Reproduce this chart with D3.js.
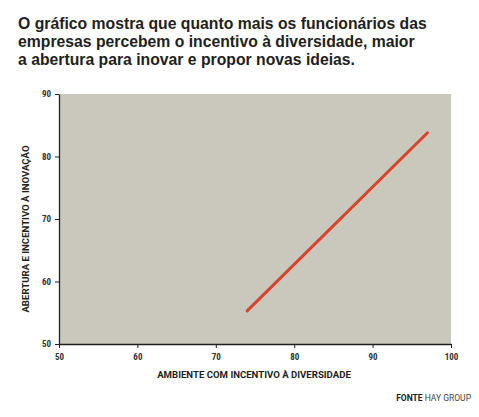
<!DOCTYPE html>
<html>
<head>
<meta charset="utf-8">
<script src="https://cdn.jsdelivr.net/npm/d3@7"></script>
<style>
  html, body { margin: 0; padding: 0; background: #fff; }
  svg { display: block; }
</style>
</head>
<body>
<svg id="chart" width="479" height="417"></svg>
<script>
// Headline, axis titles and source
const titleLines = [
  "O gráfico mostra que quanto mais os funcionários das",
  "empresas percebem o incentivo à diversidade, maior",
  "a abertura para inovar e propor novas ideias."
];
const xTitle = "AMBIENTE COM INCENTIVO À DIVERSIDADE";
const yTitle = "ABERTURA E INCENTIVO À INOVAÇÃO";

// Axis domains and ticks
const xTicks = [50, 60, 70, 80, 90, 100];
const yTicks = [50, 60, 70, 80, 90];

// Trend line endpoints (diversity score, innovation score)
const trendX = [74, 97];
const trendY = [55.3, 83.8];

const svg = d3.select("#chart");
const plot = { left: 59, right: 451, top: 94, bottom: 344 };

const x = d3.scaleLinear().domain([50, 100]).range([plot.left, plot.right]);
const y = d3.scaleLinear().domain([50, 90]).range([plot.bottom, plot.top]);

// Headline
const title = svg.append("text")
  .attr("font-family", "'Liberation Sans', Arial, sans-serif")
  .attr("font-weight", 700)
  .attr("font-size", 15.75)
  .attr("fill", "#231f20");
titleLines.forEach((t, i) => {
  title.append("tspan").attr("x", 18).attr("y", 29 + i * 18.2).text(t);
});

// Plot background
svg.append("rect")
  .attr("x", plot.left).attr("y", plot.top)
  .attr("width", plot.right - plot.left)
  .attr("height", plot.bottom - plot.top)
  .attr("fill", "#cac8bc");

// Axes
const tickFont = g => g.selectAll("text")
  .attr("font-family", "'Liberation Sans Narrow', 'Roboto Condensed', Roboto, sans-serif")
  .attr("font-weight", 700)
  .attr("font-size", 9)
  .attr("fill", "#333");

const xAxis = svg.append("g")
  .attr("transform", `translate(0,${plot.bottom})`)
  .call(d3.axisBottom(x).tickValues(xTicks).tickSize(4).tickPadding(6).tickSizeOuter(0));
xAxis.call(tickFont);

const yAxis = svg.append("g")
  .attr("transform", `translate(${plot.left},0)`)
  .call(d3.axisLeft(y).tickValues(yTicks).tickSize(4).tickPadding(4).tickSizeOuter(0));
yAxis.call(tickFont);

[xAxis, yAxis].forEach(g => {
  g.select(".domain").attr("stroke", "#231f20").attr("stroke-width", 1.3);
  g.selectAll(".tick line").attr("stroke", "#231f20");
});

// Trend line
const pts = trendX.map((d, i) => [d, trendY[i]]);
svg.append("path")
  .datum(pts)
  .attr("d", d3.line().x(d => x(d[0])).y(d => y(d[1])))
  .attr("fill", "none")
  .attr("stroke", "#d9432b")
  .attr("stroke-width", 3)
  .attr("stroke-linecap", "round");

// Axis titles
svg.append("text")
  .attr("x", 254).attr("y", 378)
  .attr("text-anchor", "middle")
  .attr("font-family", "'Liberation Sans Narrow', Roboto, sans-serif")
  .attr("font-weight", 700)
  .attr("font-size", 9.6)
  .attr("fill", "#231f20")
  .text(xTitle);

svg.append("text")
  .attr("transform", "translate(29,229) rotate(-90)")
  .attr("text-anchor", "middle")
  .attr("font-family", "'Liberation Sans Narrow', Roboto, sans-serif")
  .attr("font-weight", 700)
  .attr("font-size", 9.6)
  .attr("fill", "#231f20")
  .text(yTitle);

// Source
const src = svg.append("text")
  .attr("x", 471).attr("y", 401)
  .attr("text-anchor", "end")
  .attr("font-family", "'Liberation Sans Narrow', Roboto, sans-serif")
  .attr("font-size", 8.5)
  .attr("fill", "#231f20");
src.append("tspan").attr("font-weight", 700).text("FONTE ");
src.append("tspan").attr("fill", "#444").text(" HAY GROUP");
</script>
</body>
</html>
